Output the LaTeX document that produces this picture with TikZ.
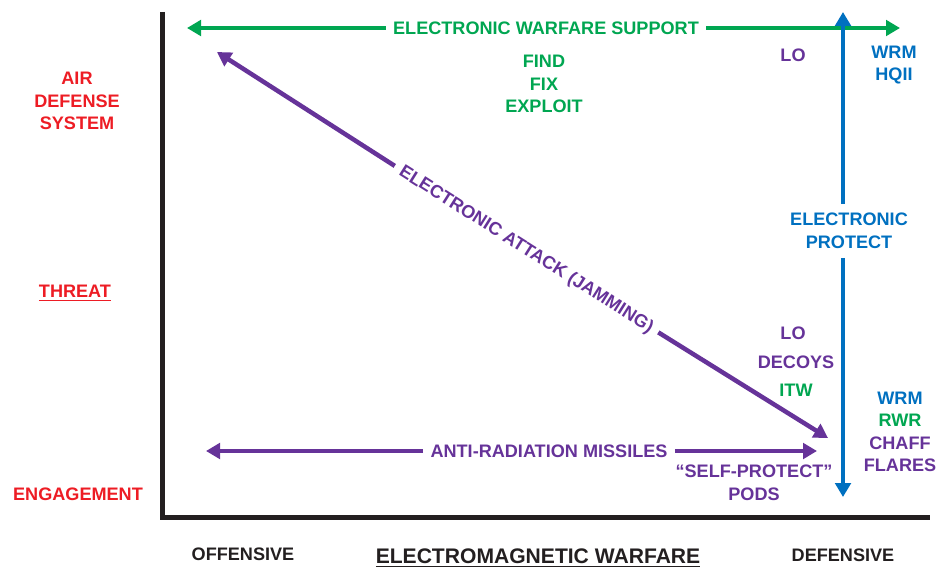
\documentclass[tikz,border=0pt]{standalone}
\usepackage{fontspec}
\setmainfont{Liberation Sans}
\usetikzlibrary{arrows.meta,positioning}

\definecolor{ewred}{RGB}{237,28,36}
\definecolor{ewgreen}{RGB}{0,166,81}
\definecolor{ewpurple}{RGB}{102,51,153}
\definecolor{ewblue}{RGB}{0,112,192}
\definecolor{axisgray}{RGB}{35,31,32}

\tikzset{
  lbl/.style={font=\fontsize{10.3}{12.8}\selectfont\bfseries, align=center, inner sep=1pt},
  band/.style={line width=0.9mm, -{Triangle[length=2.8mm,width=3.1mm]}},
}

\begin{document}
\begin{tikzpicture}[x=0.2mm, y=-0.2mm, node distance=5.9mm]
\useasboundingbox (0,0) rectangle (940,571);

% axes
\coordinate (ytop) at (162,12);
\coordinate (xend) at (930,517);
\draw[axisgray, line width=1mm] (ytop) |- (xend);

% threat scale
\node[lbl, ewred] (ads) at (77,101) {AIR\\DEFENSE\\SYSTEM};
\node[lbl, ewred] (threat) at (75,293) {\underline{THREAT}};
\node[lbl, ewred] (engage) at (78,494) {ENGAGEMENT};

% warfare scale
\node[lbl, axisgray] (off) at (243,554) {OFFENSIVE};
\node[lbl, axisgray, font=\fontsize{12}{14}\selectfont\bfseries] (emw) at (538,558) {\underline{ELECTROMAGNETIC WARFARE}};
\node[lbl, axisgray] (def) at (843,555) {DEFENSIVE};

% electronic warfare support
\coordinate (ews-l) at (187,28);
\coordinate (ews-r) at (900,28);
\node[lbl, ewgreen, inner xsep=4pt] (ews) at (546,28) {ELECTRONIC WARFARE SUPPORT};
\draw[band, ewgreen, line width=0.8mm] (ews) -- (ews-l);
\draw[band, ewgreen, line width=0.8mm] (ews) -- (ews-r);
\node[lbl, ewgreen] (ffe) at (544,84) {FIND\\FIX\\EXPLOIT};

% electronic protect
\coordinate (ep-t) at (843,12);
\coordinate (ep-b) at (843,497);
\node[lbl, ewblue, inner ysep=5pt] (ep) at (849,231) {ELECTRONIC\\PROTECT};
\draw[band, ewblue] (ep.north -| ep-t) -- (ep-t);
\draw[band, ewblue] (ep.south -| ep-b) -- (ep-b);

% electronic attack
\coordinate (ea-t) at (217,52);
\coordinate (ea-b) at (828,438);
\node[lbl, ewpurple, rotate=-32.3, inner xsep=4pt] (ea) at (526,250) {ELECTRONIC ATTACK (JAMMING)};
\draw[band, ewpurple] (ea) -- (ea-t);
\draw[band, ewpurple] (ea) -- (ea-b);

% anti-radiation missiles
\coordinate (arm-l) at (206,451);
\coordinate (arm-r) at (817,451);
\node[lbl, ewpurple, inner xsep=4pt] (arm) at (549,451) {ANTI-RADIATION MISSILES};
\draw[band, ewpurple] (arm) -- (arm-l);
\draw[band, ewpurple] (arm) -- (arm-r);

% means
\node[lbl, ewpurple] (lo1) at (793,55) {LO};
\node[lbl, ewblue] (hq) at (894,65) {WRM\\HQII};
\node[lbl, ewpurple] (lo2) at (793,333) {LO};
\node[lbl, ewpurple, below of=lo2, xshift=0.6mm] (decoys) {DECOYS};
\node[lbl, ewgreen, below of=decoys, node distance=5.6mm] (itw) {ITW};
\node[lbl, ewpurple] (spp) at (754,483) {“SELF-PROTECT”\\PODS};
\node[lbl, ewpurple] (rwr) at (900,432) {\textcolor{ewblue}{WRM}\\\textcolor{ewgreen}{RWR}\\CHAFF\\FLARES};
\end{tikzpicture}
\end{document}
